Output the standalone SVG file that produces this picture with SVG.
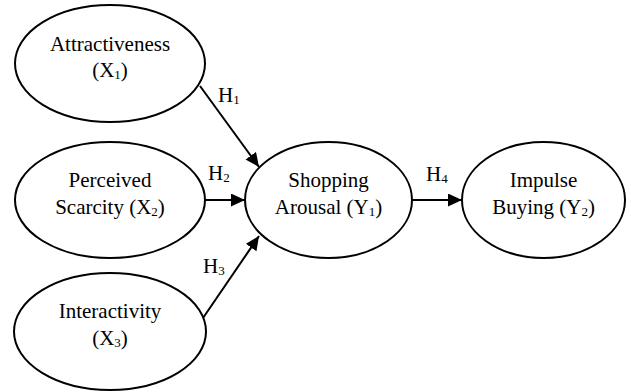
<svg xmlns="http://www.w3.org/2000/svg" width="631" height="392" viewBox="0 0 631 392">
<style>
.node ellipse{fill:#fff;stroke:#000;stroke-width:2}
text{font-family:"Liberation Serif","Times New Roman",serif;font-size:21px;fill:#000}
.c{text-anchor:middle}
.sub{font-size:13px}
.conn line{stroke:#000;stroke-width:2}
</style>
<defs>
<marker id="ah" viewBox="0 0 14 13" refX="14" refY="6.5" markerWidth="14" markerHeight="13" markerUnits="userSpaceOnUse" orient="auto">
<path d="M0,0 L14,6.5 L0,13 z" fill="#000"/>
</marker>
</defs>
<rect width="631" height="392" fill="#fff"/>
<g class="conn">
<line x1="200" y1="86" x2="259" y2="167" marker-end="url(#ah)"/>
<line x1="205" y1="200" x2="245" y2="200" marker-end="url(#ah)"/>
<line x1="203" y1="318" x2="259" y2="236" marker-end="url(#ah)"/>
<line x1="412" y1="200" x2="462" y2="200" marker-end="url(#ah)"/>
<text x="218" y="102">H<tspan class="sub" dy="2">1</tspan></text>
<text x="208" y="180">H<tspan class="sub" dy="2">2</tspan></text>
<text x="203" y="273">H<tspan class="sub" dy="2">3</tspan></text>
<text x="426" y="181">H<tspan class="sub" dy="2">4</tspan></text>
</g>
<g id="x1" class="node">
<ellipse cx="110" cy="63.5" rx="95" ry="58.5"/>
<text class="c" x="110" y="51">Attractiveness</text>
<text class="c" x="110" y="77">(X<tspan class="sub" dy="2">1</tspan><tspan dy="-2">)</tspan></text>
</g>
<g id="x2" class="node">
<ellipse cx="110" cy="200" rx="95" ry="58"/>
<text class="c" x="110" y="187">Perceived</text>
<text class="c" x="110" y="214">Scarcity (X<tspan class="sub" dy="2">2</tspan><tspan dy="-2">)</tspan></text>
</g>
<g id="x3" class="node">
<ellipse cx="110" cy="331.5" rx="96" ry="58.5"/>
<text class="c" x="110" y="318">Interactivity</text>
<text class="c" x="110" y="345">(X<tspan class="sub" dy="2">3</tspan><tspan dy="-2">)</tspan></text>
</g>
<g id="y1" class="node">
<ellipse cx="328.5" cy="200" rx="83.5" ry="58"/>
<text class="c" x="328.5" y="187">Shopping</text>
<text class="c" x="328.5" y="214">Arousal (Y<tspan class="sub" dy="2">1</tspan><tspan dy="-2">)</tspan></text>
</g>
<g id="y2" class="node">
<ellipse cx="543.5" cy="200" rx="81.5" ry="58"/>
<text class="c" x="543.5" y="187">Impulse</text>
<text class="c" x="543.5" y="214">Buying (Y<tspan class="sub" dy="2">2</tspan><tspan dy="-2">)</tspan></text>
</g>
</svg>
